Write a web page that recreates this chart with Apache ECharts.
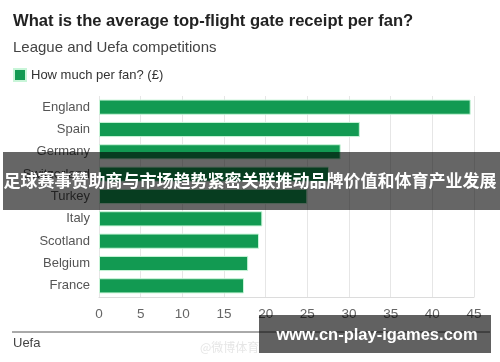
<!DOCTYPE html>
<html><head><meta charset="utf-8">
<script src="https://cdn.jsdelivr.net/npm/echarts@6/dist/echarts.min.js"></script>
<style>html,body{margin:0;padding:0;background:#fff}#c{width:500px;height:362px}</style>
</head><body><div id="c"></div>
<script>
var categories = ["England","Spain","Germany","Switzerland","Turkey","Italy","Scotland","Belgium","France"];
var perFan = [44.6, 31.3, 29.0, 27.6, 25.0, 19.6, 19.2, 17.9, 17.4];
var xTicks = [0,5,10,15,20,25,30,35,40,45];
var seriesName = "How much per fan? (£)";
var titleText = "What is the average top-flight gate receipt per fan?";
var subtitleText = "League and Uefa competitions";
var sourceText = "Uefa";
var bannerText = "足球赛事赞助商与市场趋势紧密关联推动品牌价值和体育产业发展";
var siteText = "www.cn-play-igames.com";

var chart = echarts.init(document.getElementById('c'), null, {renderer:'canvas'});
var F = "'Liberation Sans', Arial, sans-serif";
chart.setOption({
  animation:false,
  backgroundColor:'#fff',
  title:[
    {text:titleText, left:8, top:8, textStyle:{fontFamily:F, fontSize:16.6, fontWeight:'bold', color:'#222'}},
    {text:subtitleText, left:8, top:35, textStyle:{fontFamily:F, fontSize:15, fontWeight:'normal', color:'#444'}}
  ],
  legend:{left:8, top:63, itemWidth:12, itemHeight:12, itemGap:6, icon:'rect',
    textStyle:{fontFamily:F, fontSize:13, color:'#333'}, data:[seriesName]},
  grid:{left:99, right:26, top:96, bottom:65},
  xAxis:{type:'value', min:0, max:45, interval:5,
    axisLine:{show:true, lineStyle:{color:'#dcdcdc'}}, axisTick:{show:false},
    axisLabel:{fontFamily:F, fontSize:13.5, color:'#666', margin:10,
      formatter:function(v){return xTicks.indexOf(v)>=0?String(v):'';}},
    splitLine:{show:true, lineStyle:{color:'#e6e6e6'}}},
  yAxis:{type:'category', data:categories, inverse:true,
    axisLine:{show:false}, axisTick:{show:false},
    axisLabel:{fontFamily:F, fontSize:13, color:'#555', margin:9}},
  series:[{type:'bar', name:seriesName, data:perFan, barCategoryGap:'32%',
    itemStyle:{color:'#129a52', borderColor:'#c8f5d8', borderWidth:1}}],
  graphic:[
    {type:'line', shape:{x1:12,y1:332,x2:490,y2:332}, style:{stroke:'#555', lineWidth:1}},
    {type:'text', left:13, top:337, style:{text:sourceText, font:"13px "+F, fill:'#444'}},
    {type:'text', left:200, top:341, style:{text:'@微博体育', font:"12px 'Noto Sans CJK SC'", fill:'#e6e6e6'}},
    {type:'rect', shape:{x:3,y:152,width:497,height:58}, style:{fill:'rgba(0,0,0,0.6)'}, z:100},
    {type:'text', x:250, y:181, style:{text:bannerText, font:"bold 17px 'Noto Sans CJK SC'", fill:'#fff', align:'center', verticalAlign:'middle'}, z:101},
    {type:'rect', shape:{x:259,y:315,width:232,height:38}, style:{fill:'rgba(0,0,0,0.62)'}, z:100},
    {type:'text', x:377, y:335, style:{text:siteText, font:"bold 16.5px 'Liberation Sans', Arial, sans-serif", fill:'#fff', align:'center', verticalAlign:'middle'}, z:101}
  ]
});
</script></body></html>
